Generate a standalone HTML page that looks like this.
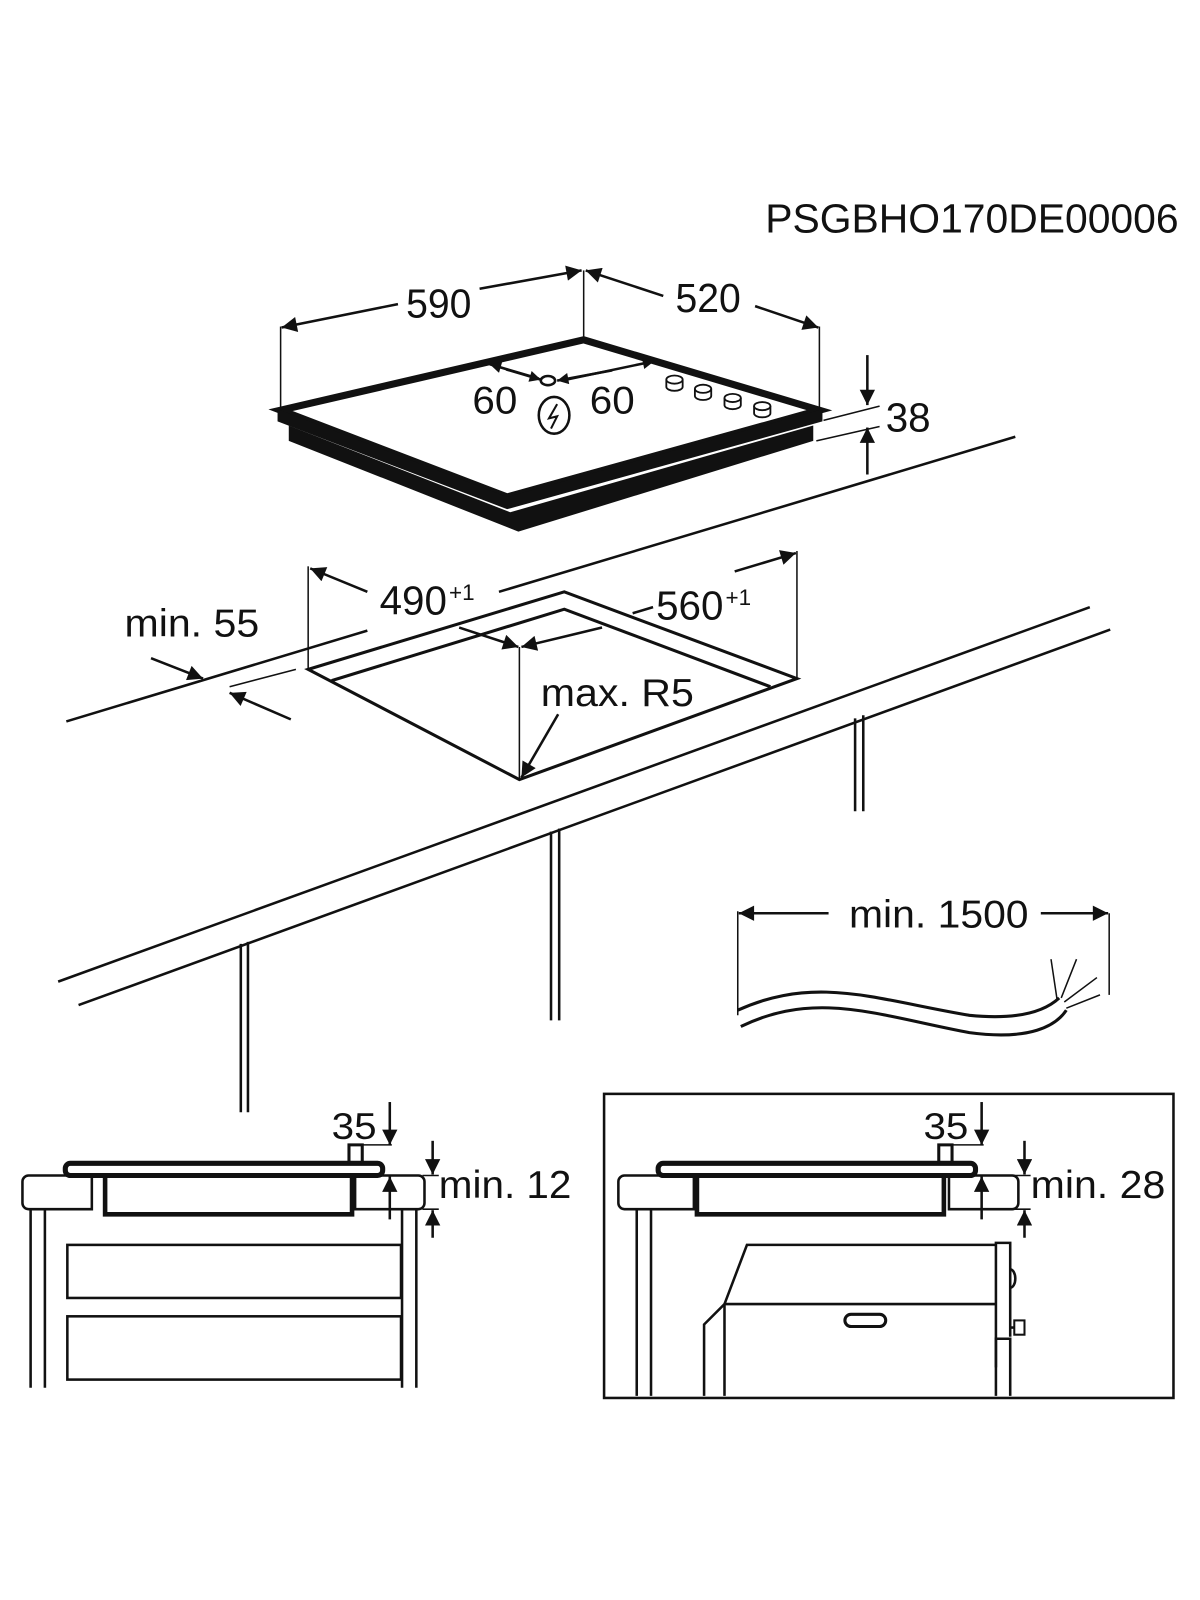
<!DOCTYPE html>
<html><head><meta charset="utf-8"><style>
html,body{margin:0;padding:0;background:#fff}
svg{display:block}
text{font-family:"Liberation Sans",Arial,sans-serif;fill:#111}
</style></head><body>
<svg width="1200" height="1600" viewBox="0 0 1176 1568" xmlns="http://www.w3.org/2000/svg">
<defs>
<marker id="a" viewBox="0 0 10 10" refX="10" refY="5" markerWidth="16" markerHeight="11" markerUnits="userSpaceOnUse" orient="auto"><path d="M0,0 L10,5 L0,10 z" fill="#111"/></marker>
<marker id="b" viewBox="0 0 10 10" refX="10" refY="5" markerWidth="24" markerHeight="15" markerUnits="userSpaceOnUse" orient="auto"><path d="M0,0 L10,5 L0,10 z" fill="#111"/></marker>
</defs>
<g stroke="#111" fill="none" stroke-width="2.5">
<text x="750" y="228" font-size="40" textLength="405" lengthAdjust="spacingAndGlyphs" stroke="none">PSGBHO170DE00006</text>

<!-- hob -->
<line x1="275" y1="320" x2="275" y2="405" stroke-width="1.5"/>
<line x1="572" y1="265" x2="572" y2="334" stroke-width="1.5"/>
<line x1="803" y1="320" x2="803" y2="405" stroke-width="1.5"/>
<line x1="390" y1="298" x2="276" y2="321" marker-end="url(#b)"/>
<line x1="470" y1="283" x2="570" y2="265" marker-end="url(#b)"/>
<line x1="650" y1="290" x2="574" y2="265" marker-end="url(#b)"/>
<line x1="740" y1="300" x2="802" y2="321" marker-end="url(#b)"/>
<text x="398" y="311" font-size="40" textLength="64" lengthAdjust="spacingAndGlyphs" stroke="none">590</text>
<text x="662" y="306" font-size="40" textLength="64" lengthAdjust="spacingAndGlyphs" stroke="none">520</text>

<polygon points="275,402 572,333 803,402 497,487" fill="#fff" stroke-width="7" stroke-linejoin="miter"/>
<polygon points="272,401 497,487 806,401 806,413 497,499 272,413" fill="#111" stroke="none"/>
<polygon points="283,417 500,502 797,417 797,432 508,521 283,432" fill="#111" stroke="none"/>

<ellipse cx="537" cy="373" rx="7" ry="4.5"/>
<line x1="528" y1="371" x2="480" y2="357" marker-end="url(#a)"/>
<line x1="496" y1="362" x2="530" y2="372" marker-end="url(#a)"/>
<line x1="555" y1="372" x2="641" y2="354" marker-end="url(#a)"/>
<line x1="600" y1="363" x2="546" y2="373" marker-end="url(#a)"/>
<text x="463" y="405" font-size="38" textLength="44" lengthAdjust="spacingAndGlyphs" stroke="none">60</text>
<text x="578" y="405" font-size="38" textLength="44" lengthAdjust="spacingAndGlyphs" stroke="none">60</text>
<ellipse cx="543" cy="407" rx="15" ry="18"/>
<path d="M546,396 L538,410 L546,408 L540,420" stroke-width="2"/>
<g stroke-width="1.8">
<ellipse cx="661" cy="372" rx="8" ry="4" fill="#fff"/><path d="M653,372 v7 a8,4 0 0 0 16,0 v-7"/>
<ellipse cx="689" cy="381" rx="8" ry="4" fill="#fff"/><path d="M681,381 v7 a8,4 0 0 0 16,0 v-7"/>
<ellipse cx="718" cy="390" rx="8" ry="4" fill="#fff"/><path d="M710,390 v7 a8,4 0 0 0 16,0 v-7"/>
<ellipse cx="747" cy="398" rx="8" ry="4" fill="#fff"/><path d="M739,398 v7 a8,4 0 0 0 16,0 v-7"/>
</g>
<line x1="807" y1="412" x2="862" y2="398" stroke-width="1.5"/>
<line x1="800" y1="432" x2="862" y2="418" stroke-width="1.5"/>
<line x1="850" y1="348" x2="850" y2="397" marker-end="url(#b)"/>
<line x1="850" y1="465" x2="850" y2="419" marker-end="url(#b)"/>
<text x="868" y="423" font-size="40" textLength="44" lengthAdjust="spacingAndGlyphs" stroke="none">38</text>

<!-- counter top -->
<line x1="995" y1="428" x2="489" y2="580"/>
<line x1="360" y1="618" x2="65" y2="707"/>
<line x1="225" y1="673" x2="290" y2="656" stroke-width="1.5"/>
<line x1="148" y1="645" x2="199" y2="665" marker-end="url(#b)"/>
<line x1="285" y1="705" x2="225" y2="679" marker-end="url(#b)"/>
<text x="122" y="624" font-size="38" textLength="132" lengthAdjust="spacingAndGlyphs" stroke="none">min. 55</text>

<!-- cutout -->
<polygon points="302,656 553,580 781,665 509,764" stroke-width="3"/>
<polyline points="325,667 553,597 755,673" stroke-width="3"/>
<line x1="302" y1="555" x2="302" y2="656" stroke-width="1.5"/>
<line x1="781" y1="540" x2="781" y2="665" stroke-width="1.5"/>
<line x1="509" y1="634" x2="509" y2="764" stroke-width="1.5"/>
<line x1="360" y1="580" x2="304" y2="557" marker-end="url(#b)"/>
<line x1="450" y1="615" x2="508" y2="634" marker-end="url(#b)"/>
<line x1="590" y1="615" x2="511" y2="634" marker-end="url(#b)"/>
<line x1="720" y1="560" x2="780" y2="542" marker-end="url(#b)"/>
<line x1="640" y1="595" x2="620" y2="601"/>
<text x="372" y="602" font-size="40" textLength="66" lengthAdjust="spacingAndGlyphs" stroke="none">490</text>
<text x="440" y="588" font-size="22" stroke="none">+1</text>
<text x="643" y="607" font-size="40" textLength="66" lengthAdjust="spacingAndGlyphs" stroke="none">560</text>
<text x="711" y="593" font-size="22" stroke="none">+1</text>
<text x="530" y="692" font-size="38" textLength="150" lengthAdjust="spacingAndGlyphs" stroke="none">max. R5</text>
<line x1="547" y1="700" x2="511" y2="762" marker-end="url(#b)"/>

<!-- counter front -->
<line x1="57" y1="962" x2="1068" y2="595"/>
<line x1="77" y1="985" x2="1088" y2="617"/>
<line x1="236" y1="925" x2="236" y2="1090"/><line x1="243" y1="923" x2="243" y2="1090"/>
<line x1="540" y1="815" x2="540" y2="1000"/><line x1="548" y1="812" x2="548" y2="1000"/>
<line x1="838" y1="704" x2="838" y2="795"/><line x1="846" y1="701" x2="846" y2="795"/>

<!-- cable -->
<line x1="723" y1="893" x2="723" y2="995" stroke-width="1.5"/>
<line x1="1087" y1="895" x2="1087" y2="975" stroke-width="1.5"/>
<line x1="812" y1="895" x2="724" y2="895" marker-end="url(#b)"/>
<line x1="1020" y1="895" x2="1086" y2="895" marker-end="url(#b)"/>
<text x="832" y="909" font-size="38" textLength="176" lengthAdjust="spacingAndGlyphs" stroke="none">min. 1500</text>
<path d="M723,990 C800,955 860,980 950,995 C1000,1000 1025,990 1038,978" stroke-width="3"/>
<path d="M726,1006 C800,970 860,995 950,1012 C1010,1020 1035,1005 1045,990" stroke-width="3"/>
<path d="M1036,980 L1030,940 M1040,978 L1055,940 M1043,982 L1075,958 M1045,988 L1078,975" stroke-width="1.5"/>

<!-- bottom left -->
<line x1="30" y1="1185" x2="30" y2="1360"/><line x1="44" y1="1185" x2="44" y2="1360"/>
<line x1="394" y1="1185" x2="394" y2="1360"/><line x1="408" y1="1185" x2="408" y2="1360"/>
<path d="M90,1185 H28 a6,6 0 0 1 -6,-6 V1158 a6,6 0 0 1 6,-6 H90 Z"/>
<path d="M348,1185 H410 a6,6 0 0 0 6,-6 V1158 a6,6 0 0 0 -6,-6 H348 Z"/>
<rect x="64" y="1140" width="311" height="12" rx="5" stroke-width="5"/>
<path d="M103,1153 V1190 H345 V1153" stroke-width="4.5"/>
<path d="M342,1140 V1122 H355 V1140" stroke-width="3"/>
<rect x="66" y="1220" width="327" height="52" stroke-width="2.5"/>
<rect x="66" y="1290" width="327" height="62" stroke-width="2.5"/>
<text x="325" y="1116" font-size="36" textLength="44" lengthAdjust="spacingAndGlyphs" stroke="none">35</text>
<line x1="382" y1="1080" x2="382" y2="1122" marker-end="url(#b)"/>
<line x1="355" y1="1122" x2="384" y2="1122" stroke-width="1.5"/>
<line x1="382" y1="1195" x2="382" y2="1153" marker-end="url(#b)"/>
<line x1="424" y1="1118" x2="424" y2="1151" marker-end="url(#b)"/>
<line x1="424" y1="1213" x2="424" y2="1186" marker-end="url(#b)"/>
<line x1="414" y1="1152" x2="430" y2="1152" stroke-width="1.5"/>
<line x1="414" y1="1185" x2="430" y2="1185" stroke-width="1.5"/>
<text x="430" y="1174" font-size="38" textLength="130" lengthAdjust="spacingAndGlyphs" stroke="none">min. 12</text>

<!-- bottom right -->
<rect x="592" y="1072" width="558" height="298" stroke-width="2.5"/>
<path d="M680,1185 H612 a6,6 0 0 1 -6,-6 V1158 a6,6 0 0 1 6,-6 H680 Z"/>
<path d="M930,1185 H992 a6,6 0 0 0 6,-6 V1158 a6,6 0 0 0 -6,-6 H930 Z"/>
<line x1="624" y1="1185" x2="624" y2="1368"/><line x1="638" y1="1185" x2="638" y2="1368"/>
<rect x="645" y="1140" width="311" height="12" rx="5" stroke-width="5"/>
<path d="M683,1153 V1190 H925 V1153" stroke-width="4.5"/>
<path d="M920,1140 V1122 H933 V1140" stroke-width="3"/>
<text x="905" y="1116" font-size="36" textLength="44" lengthAdjust="spacingAndGlyphs" stroke="none">35</text>
<line x1="962" y1="1080" x2="962" y2="1122" marker-end="url(#b)"/>
<line x1="933" y1="1122" x2="964" y2="1122" stroke-width="1.5"/>
<line x1="962" y1="1195" x2="962" y2="1153" marker-end="url(#b)"/>
<line x1="1004" y1="1118" x2="1004" y2="1151" marker-end="url(#b)"/>
<line x1="1004" y1="1213" x2="1004" y2="1186" marker-end="url(#b)"/>
<line x1="994" y1="1152" x2="1010" y2="1152" stroke-width="1.5"/>
<line x1="994" y1="1185" x2="1010" y2="1185" stroke-width="1.5"/>
<text x="1010" y="1174" font-size="38" textLength="132" lengthAdjust="spacingAndGlyphs" stroke="none">min. 28</text>
<!-- oven -->
<path d="M976,1368 V1218 H990 V1310" />
<path d="M976,1340 V1312 H990 V1368"/>
<path d="M990,1244 a5,9 0 0 1 0,18"/>
<rect x="994" y="1294" width="10" height="14" stroke-width="2"/>
<line x1="990" y1="1301" x2="994" y2="1301"/>
<path d="M976,1220 H732 L710,1278 H976"/>
<path d="M710,1368 V1278 L690,1298 V1368"/>
<rect x="828" y="1288" width="40" height="12" rx="6" stroke-width="3"/>
</g>
</svg>
</body></html>
